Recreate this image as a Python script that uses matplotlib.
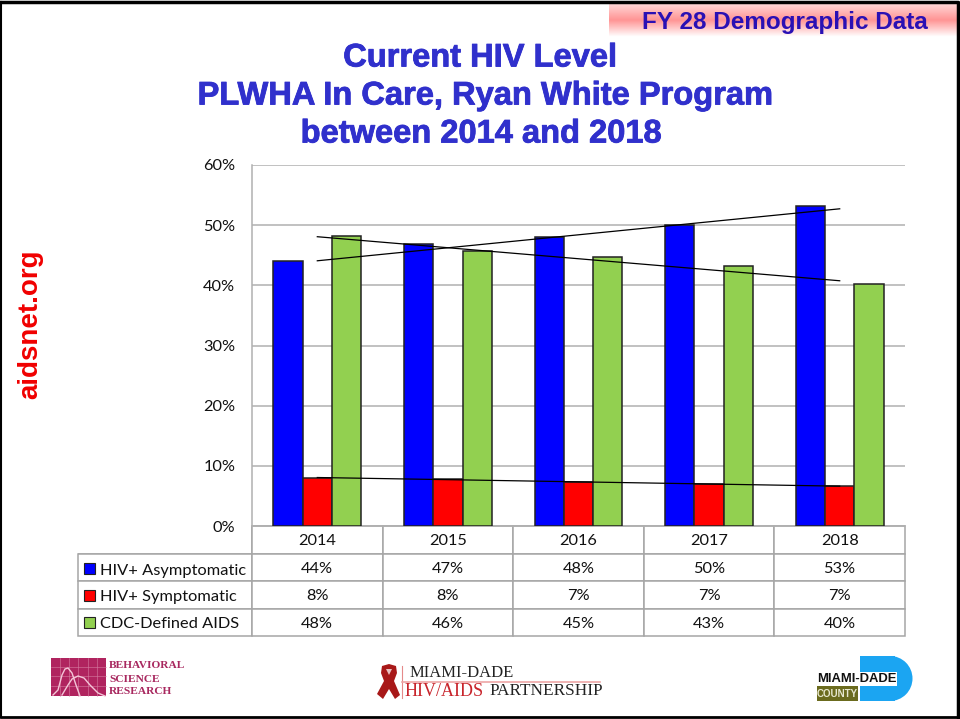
import numpy as np
import matplotlib
matplotlib.use('Agg')
import matplotlib.pyplot as plt
import matplotlib.patheffects as pe
from matplotlib.patches import Rectangle, Polygon, Wedge, PathPatch
from matplotlib.path import Path

years = ['2014', '2015', '2016', '2017', '2018']
series_names = ['HIV+ Asymptomatic', 'HIV+ Symptomatic', 'CDC-Defined AIDS']
asymptomatic = [44.0, 46.8, 48.0, 50.0, 53.2]
symptomatic = [8.0, 7.8, 7.3, 7.0, 6.6]
cdc_aids = [48.2, 45.7, 44.7, 43.2, 40.3]
series_colors = ['#0000ff', '#ff0000', '#92d050']

title_lines = ['Current HIV Level', 'PLWHA In Care, Ryan White Program', 'between 2014 and 2018']

W, H = 960, 719
plt.rcParams['font.family'] = ['Lato', 'DejaVu Sans']
fig = plt.figure(figsize=(W / 100, H / 100), dpi=100, facecolor='white')

# chart axes, placed in pixels of the slide
ax = fig.add_axes([252 / W, (H - 526) / H, 653 / W, 361 / H])
x = np.arange(len(years))
bar_w = 0.224
all_series = [asymptomatic, symptomatic, cdc_aids]
for i, vals in enumerate(all_series):
    ax.bar(x + (i - 1) * bar_w, vals, bar_w, color=series_colors[i], edgecolor='#222222', linewidth=1.1, zorder=3)
    # linear trendline, same as the spreadsheet one
    slope, icpt = np.polyfit(x, vals, 1)
    ax.plot(x, slope * x + icpt, color='black', lw=0.9, zorder=4)

ax.set_xlim(-0.5, 4.5)
ax.set_ylim(0, 60)
ax.set_yticks(range(0, 61, 10))
ax.set_yticklabels([f'{v}%' for v in range(0, 61, 10)], fontsize=11.8, color='#111111')
ax.set_xticks([])
ax.tick_params(axis='y', length=0, pad=12)
ax.grid(axis='y', color='#b0b0b0', lw=1.1, zorder=0)
ax.set_axisbelow(True)
for side in ['top', 'right']:
    ax.spines[side].set_visible(False)
for side in ['left', 'bottom']:
    ax.spines[side].set_color('#b0b0b0')
    ax.spines[side].set_linewidth(1.1)

# data table under the chart, first column left empty for the keys and names
cells = [[''] + [f'{v:.0f}%' for v in vals] for vals in all_series]
tbl = ax.table(cellText=cells, colLabels=[''] + years,
               colWidths=[174 / 827] + [130.6 / 827] * 5, cellLoc='center',
               bbox=[(78 - 252) / 653, -110 / 361, 827 / 653, 110 / 361])
tbl.auto_set_font_size(False)
for (r, c), cell in tbl.get_celld().items():
    cell.set_edgecolor('#a6a6a6')
    cell.set_linewidth(1.1)
    cell.get_text().set_fontsize(11.8)
    cell.get_text().set_color('#111111')
    cell.get_text().set_verticalalignment('center_baseline')
tbl[(0, 0)].visible_edges = 'BR'

# slide furniture, in pixel coordinates
ov = fig.add_axes([0, 0, 1, 1], zorder=5)
ov.patch.set_alpha(0)

# legend keys and names in the table
for y0, col, name in zip([563, 590, 617], series_colors, series_names):
    ov.add_patch(Rectangle((84, y0), 11, 11, fc=col, ec='#222222', lw=0.8))
    ov.text(100, y0 + 6, name, fontsize=11.8, color='#111111', va='center_baseline')

# slide border
ov.plot([0.5, 958, 958], [2, 2, 717], color='black', lw=2.5, clip_on=False)
ov.plot([0.5, 958], [717, 717], color='black', lw=2, clip_on=False)
ov.plot([0.5, 0.5], [2, 717], color='black', lw=1.5, clip_on=False)

# banner with a soft pink band
shade = np.interp(np.linspace(0, 1, 40), [0, 0.5, 1], [0.85, 0.58, 1.0])
grad = np.ones((40, 1, 3))
grad[:, 0, 1] = shade
grad[:, 0, 2] = shade
ov.imshow(grad, extent=[609, 958, 37, 3], aspect='auto', zorder=1)
ov.set_xlim(0, W)
ov.set_ylim(H, 0)
ov.axis('off')
ov.text(785, 22, 'FY 28 Demographic Data', family='Liberation Sans', weight='bold', fontsize=17.5,
        color='#2a10b4', ha='center', va='center', zorder=2)

# title
for tx, ty, line in zip([480, 485, 481], [58, 96, 134], title_lines):
    ov.text(tx, ty, line, family='Liberation Sans', weight='bold', fontsize=23.5,
            color='#3030cc', ha='center', va='center',
            path_effects=[pe.withStroke(linewidth=0.6, foreground='#3030cc')])

ov.text(30, 324, 'aidsnet.org', family='Liberation Sans', weight='bold', fontsize=20, color='#f00000',
        rotation=90, ha='center', va='center')

# Behavioral Science Research logo
ov.add_patch(Rectangle((51, 658), 55, 38, fc='#b0245f', ec='none'))
for gx in np.arange(60, 106, 9.2):
    ov.plot([gx, gx], [658, 696], color='#d77fa3', lw=0.4)
for gy in [667, 676, 686]:
    ov.plot([51, 106], [gy, gy], color='#d77fa3', lw=0.4)
curve_a = [(53, 695), (58, 690), (62, 675), (65, 669), (68, 668), (72, 673), (76, 685), (80, 696)]
curve_b = [(62, 695), (68, 685), (72, 679), (78, 676), (84, 678), (90, 685), (98, 693), (105, 696)]
for pts in [curve_a, curve_b]:
    ov.plot(*zip(*pts), color='#f4c6d8', lw=1)
for ty, word in zip([665, 679, 692], ['BEHAVIORAL', 'SCIENCE', 'RESEARCH']):
    ov.text(109, ty, word, family='Liberation Serif', weight='bold', fontsize=8.2, color='#a8285f', va='center')

# partnership logo
ribbon = Path([(389, 664), (382, 666), (381, 673), (384, 681), (377, 694), (383, 699), (389, 689),
               (395, 699), (400, 695), (394, 681), (397, 673), (396, 666), (389, 664)])
ov.add_patch(PathPatch(ribbon, fc='#a81818', ec='none'))
ov.add_patch(Polygon([(386, 669), (392, 669), (389, 675)], fc='#e8c0c0', ec='none'))
ov.plot([401.5, 401.5], [666, 698], color='#e58a8a', lw=0.8)
ov.plot([401.5, 600], [681.5, 681.5], color='#eda5a5', lw=1.2)
ov.text(410, 673, 'MIAMI-DADE', family='Liberation Serif', fontsize=12, color='#222222', va='center')
ov.text(405, 691, 'HIV/AIDS', family='Liberation Serif', fontsize=13, color='#c8242b', va='center')
ov.text(489, 691, 'PARTNERSHIP', family='Liberation Serif', fontsize=12.4, color='#222222', va='center')

# county logo
ov.add_patch(Rectangle((860, 656), 35, 45, fc='#1ba5f2', ec='none'))
ov.add_patch(Wedge((890, 678.5), 22.5, -90, 90, fc='#1ba5f2', ec='none'))
ov.add_patch(Rectangle((816, 672), 81, 14, fc='white', ec='none'))
ov.text(817, 679.5, 'MIAMI-DADE', family='Liberation Sans', weight='bold', fontsize=9.4, color='#111111', va='center')
ov.add_patch(Rectangle((817, 686), 41, 15, fc='#6b6b1e', ec='none'))
ov.text(837.5, 694, 'COUNTY', family='Liberation Sans', weight='bold', fontsize=7, color='#e8e8d0',
        ha='center', va='center')

fig.savefig('out.png', dpi=100)
